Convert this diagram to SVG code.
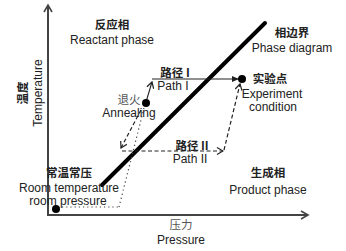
<svg xmlns="http://www.w3.org/2000/svg" width="346" height="251" viewBox="0 0 346 251">
<defs>
<style>
.en{font-family:"Liberation Sans",Arial,sans-serif;font-size:12px;fill:#222;text-anchor:middle}
.zh{font-family:"Noto Sans CJK SC",sans-serif;font-size:11.5px;fill:#222;text-anchor:middle;font-weight:bold}
.axis{stroke:#444;stroke-width:2;fill:none}
.thin{stroke:#222;stroke-width:1.1;fill:none}
.dash{stroke:#222;stroke-width:1.2;fill:none;stroke-dasharray:4 2.5}
.dot{stroke:#444;stroke-width:1.2;fill:none;stroke-dasharray:1.2 3}
</style>
<marker id="open" markerWidth="10" markerHeight="10" refX="8" refY="5" orient="auto" markerUnits="userSpaceOnUse">
<path d="M1,1 L8,5 L1,9" fill="none" stroke="#444" stroke-width="1.6"/>
</marker>
<marker id="tri" markerWidth="8" markerHeight="8" refX="7" refY="4" orient="auto" markerUnits="userSpaceOnUse">
<path d="M0,1 L7,4 L0,7 Z" fill="#222"/>
</marker>
<marker id="chev" markerWidth="8" markerHeight="8" refX="7" refY="4" orient="auto" markerUnits="userSpaceOnUse">
<path d="M1,0.5 L7,4 L1,7.5" fill="none" stroke="#222" stroke-width="1.2"/>
</marker>
</defs>
<rect width="346" height="251" fill="#fff"/>
<g id="axes">
<line class="axis" x1="48" y1="215" x2="48" y2="5" marker-end="url(#open)"/>
<line class="axis" x1="47" y1="215" x2="308" y2="215" marker-end="url(#open)"/>
</g>
<g id="phase-boundary">
<line x1="102" y1="185" x2="265" y2="23" stroke="#000" stroke-width="4" stroke-linecap="round"/>
</g>
<g id="connectors">
<line class="dot" x1="62" y1="207" x2="119" y2="207"/>
<line class="dot" x1="119" y1="207" x2="144" y2="108"/>
<line class="thin" x1="146" y1="102" x2="152" y2="82" marker-end="url(#chev)"/>
<line class="thin" x1="152" y1="79" x2="239" y2="79" marker-end="url(#tri)"/>
<line class="dash" x1="141" y1="110" x2="121" y2="148" marker-end="url(#chev)"/>
<line class="dash" x1="122" y1="151" x2="223" y2="151" marker-end="url(#chev)"/>
<line class="dash" x1="224" y1="150" x2="240" y2="84" marker-end="url(#chev)"/>
</g>
<g id="room-point">
<circle cx="56" cy="209" r="4" fill="#000"/>
<text class="zh" x="69" y="177">常温常压</text>
<text class="en" x="69" y="192">Room temperature</text>
<text class="en" x="68" y="205">room pressure</text>
</g>
<g id="annealing">
<circle cx="146" cy="103" r="4" fill="#000"/>
<text class="zh" x="129" y="104" style="font-weight:normal;fill:#555">退火</text>
<text class="en" x="129" y="117">Annealing</text>
</g>
<g id="experiment">
<circle cx="242" cy="79" r="4" fill="#000"/>
<text class="zh" x="270" y="83">实验点</text>
<text class="en" x="272" y="98">Experiment</text>
<text class="en" x="273" y="111">condition</text>
</g>
<g id="path1-label">
<text class="zh" x="175" y="77">路径 I</text>
<text class="en" x="173" y="90">Path I</text>
</g>
<g id="path2-label">
<text class="zh" x="192" y="150">路径 II</text>
<text class="en" x="190" y="163">Path II</text>
</g>
<g id="reactant">
<text class="zh" x="112" y="29">反应相</text>
<text class="en" x="112" y="44">Reactant phase</text>
</g>
<g id="phase-diagram">
<text class="zh" x="292" y="37">相边界</text>
<text class="en" x="292" y="52">Phase diagram</text>
</g>
<g id="product">
<text class="zh" x="268" y="177">生成相</text>
<text class="en" x="268" y="194">Product phase</text>
</g>
<g id="pressure-label">
<text class="zh" x="181" y="229" style="font-weight:normal;fill:#555">压力</text>
<text class="en" x="181" y="244">Pressure</text>
</g>
<g id="temperature-label">
<text class="zh" transform="translate(27,93) rotate(-90)">温度</text>
<text class="en" transform="translate(42,93) rotate(-90)">Temperature</text>
</g>
</svg>
